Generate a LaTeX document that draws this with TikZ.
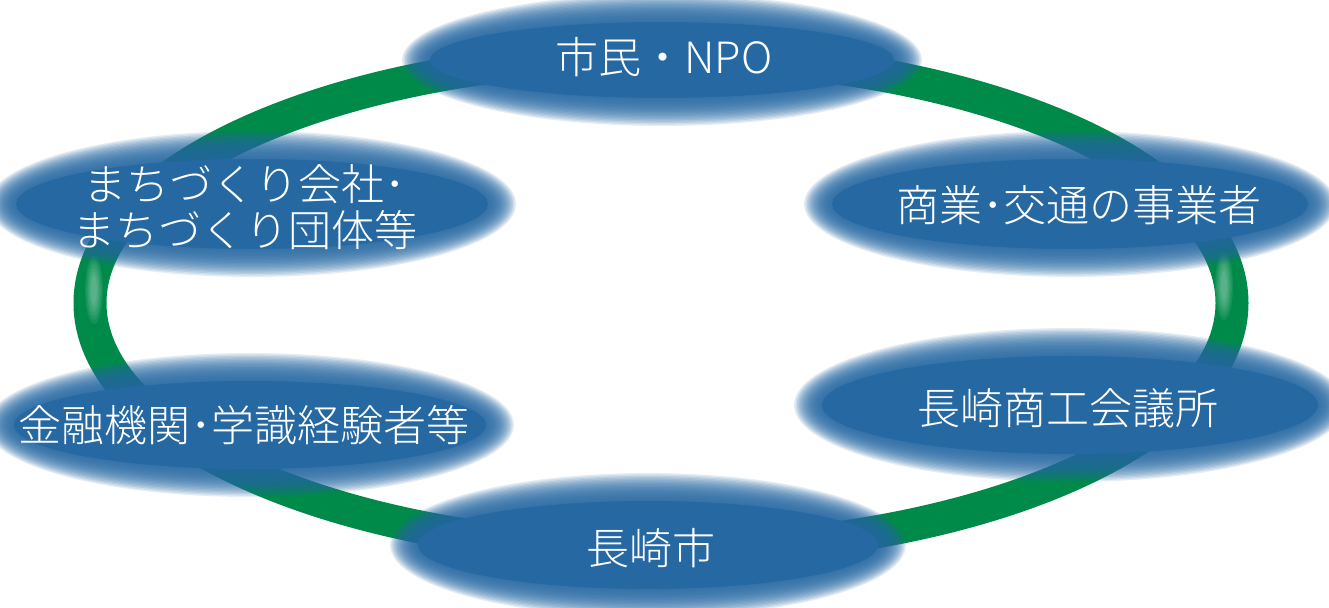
\documentclass[tikz,border=0pt]{standalone}
\usepackage{xcolor}
\usepackage{tikz}
\usepackage{fontspec}
\usetikzlibrary{positioning}

\newfontfamily\jpfont{Noto Sans CJK JP}[UprightFont=* Light]

\definecolor{ringgreen}{RGB}{0,138,74}
\definecolor{ovalblue}{RGB}{38,104,162}

% soft (blurred) oval: centre, x radius, y radius
\newcommand{\softoval}[3]{%
    \foreach \k in {0,...,19}{
        \fill[ovalblue, fill opacity=0.12] (#1) ellipse [x radius={#2+14-1.4*\k}, y radius={#3+14-1.4*\k}];
    }
    \fill[ovalblue] (#1) ellipse [x radius={#2-14}, y radius={#3-14}];
}

\tikzset{
    lbl/.style={text=white, inner sep=0pt, align=center,
        font=\jpfont\fontsize{24.5}{26}\selectfont},
    ring/.style={draw=ringgreen, line width=0.66cm}
}

\begin{document}
\begin{tikzpicture}[x=0.02cm, y=0.02cm]
    \useasboundingbox (0,0) rectangle (1329,608);
    % the ring
    \draw[ring] (661,305) ellipse [x radius=571, y radius=247];
    % gloss on the ring
    \foreach \k in {0,...,5}{
        \fill[white, fill opacity=0.07] (1224,322) ellipse [x radius={9-1.2*\k}, y radius={34-4*\k}];
        \fill[white, fill opacity=0.07] (94,318) ellipse [x radius={9-1.2*\k}, y radius={34-4*\k}];
    }
    % the ovals
    \softoval{662,548}{246}{52}
    \softoval{252,404}{250}{59}
    \softoval{1070,404}{252}{59}
    \softoval{1070,203}{262}{63}
    \softoval{250,183}{250}{58}
    \softoval{648,63}{244}{58}
    % the labels
    \begin{scope}[every node/.style={lbl}]
    \node (shimin) at (664,551) {市民・NPO};
    \node (machi) at (245,401) {まちづくり会社･\\まちづくり団体等};
    \node (shogyo) at (1079,403) {商業･交通の事業者};
    \node (shoko) at (1068,200) {長崎商工会議所};
    \node (kinyu) at (244,183) {金融機関･学識経験者等};
    \node (nagasaki) at (651,60) {長崎市};
    \end{scope}
\end{tikzpicture}
\end{document}
